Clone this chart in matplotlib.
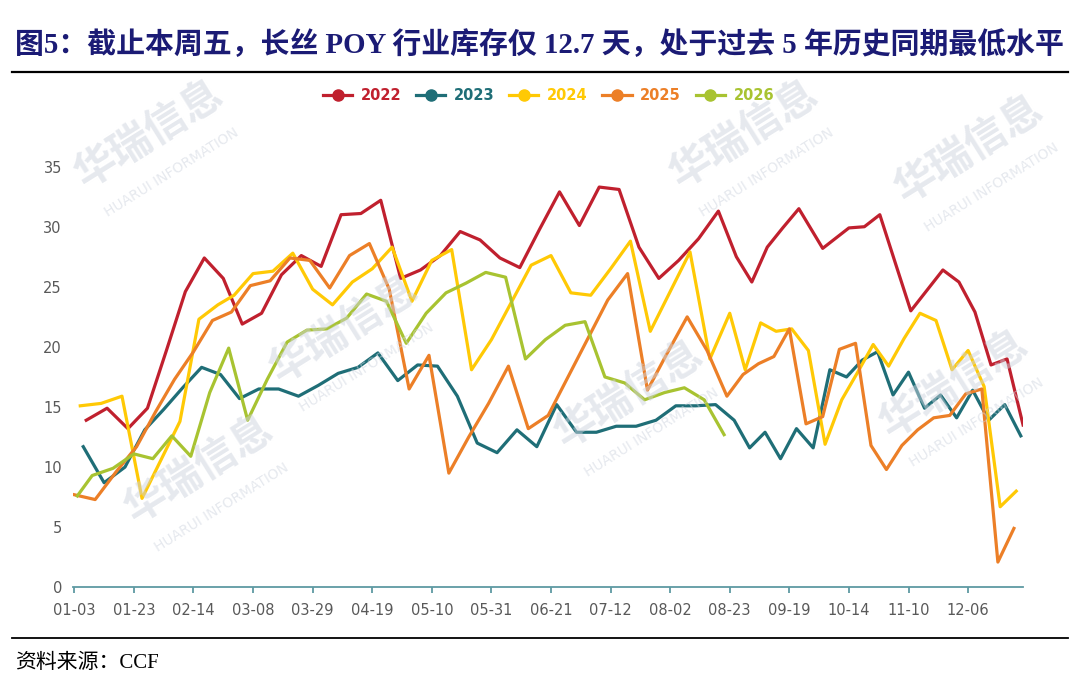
import numpy as np
import pandas as pd
import matplotlib
matplotlib.use("Agg")
import matplotlib.pyplot as plt
from matplotlib.lines import Line2D

# ── данные ──────────────────────────────────────────────────────────
tick_labels = ["01-03", "01-23", "02-14", "03-08", "03-29", "04-19", "05-10", "05-31",
               "06-21", "07-12", "08-02", "08-23", "09-19", "10-14", "11-10", "12-06"]

years = ["2022", "2023", "2024", "2025", "2026"]

dates_2022 = (pd.date_range("2022-01-07", "2022-12-30", freq="7D")
              .drop(pd.to_datetime(["2022-09-30", "2022-10-07"]))
              .append(pd.DatetimeIndex(["2022-10-03"])).sort_values())
dates_2023 = pd.date_range("2023-01-06", "2023-12-29", freq="7D")
dates_2024 = pd.date_range("2024-01-05", "2024-12-27", freq="7D")
dates_2025 = pd.date_range("2025-01-03", "2025-12-26", freq="7D")
dates_2026 = pd.DatetimeIndex(["2026-01-04"]).append(
    pd.date_range("2026-01-09", "2026-08-21", freq="7D"))

v2022 = [13.9, 14.9, 13.2, 14.9, 19.7, 24.6, 27.4, 25.7, 21.9, 22.8,
         26.0, 27.6, 26.7, 31.0, 31.1, 32.2, 25.7, 26.4, 27.6, 29.6,
         28.9, 27.4, 26.6, 29.8, 32.9, 30.1, 33.3, 33.1, 28.3, 25.7,
         27.2, 29.0, 31.3, 27.5, 25.4, 28.3, 29.9, 31.5, 28.2, 29.9,
         30.0, 31.0, 27.0, 23.0, 24.7, 26.4, 25.4, 22.9, 18.5, 19.0,
         13.5]
v2023 = [11.7, 8.7, 10.0, 13.1, 14.8, 16.6, 18.3, 17.7, 15.7, 16.5,
         16.5, 15.9, 16.8, 17.8, 18.3, 19.5, 17.2, 18.5, 18.4, 15.9,
         12.0, 11.2, 13.1, 11.7, 15.2, 12.9, 12.9, 13.4, 13.4, 13.9,
         15.1, 15.1, 15.2, 13.9, 11.6, 12.9, 10.7, 13.2, 11.6, 18.1,
         17.5, 18.9, 19.6, 16.0, 17.9, 14.9, 16.0, 14.1, 16.4, 13.9,
         15.2, 12.6]
v2024 = [15.1, 15.3, 15.9, 7.4, 10.6, 13.8, 22.3, 23.5, 24.3, 26.1,
         26.3, 27.8, 24.8, 23.5, 25.4, 26.5, 28.3, 23.8, 27.2, 28.1,
         18.1, 20.6, 23.7, 26.8, 27.6, 24.5, 24.3, 26.5, 28.8, 21.3,
         24.6, 27.9, 19.0, 22.8, 18.1, 22.0, 21.3, 21.5, 19.7, 11.9,
         15.6, 17.9, 20.2, 18.4, 20.7, 22.8, 22.2, 18.1, 19.7, 16.7,
         6.7, 8.0]
v2025 = [7.7, 7.3, 9.6, 11.7, 14.6, 17.3, 19.6, 22.2, 22.9, 25.1,
         25.5, 27.4, 27.2, 24.9, 27.6, 28.6, 24.8, 16.5, 19.3, 9.5,
         12.5, 15.3, 18.4, 13.2, 14.3, 17.5, 20.7, 23.9, 26.1, 16.4,
         19.5, 22.5, 19.7, 15.9, 17.7, 18.6, 19.2, 21.5, 13.6, 14.2,
         19.8, 20.3, 11.8, 9.8, 11.8, 13.1, 14.1, 14.3, 16.1, 16.5,
         2.1, 4.9]
v2026 = [7.6, 9.3, 9.9, 11.1, 10.7, 12.6, 10.9, 16.2, 19.9, 13.9,
         17.3, 20.4, 21.4, 21.5, 22.4, 24.4, 23.8, 20.3, 22.8, 24.5,
         25.3, 26.2, 25.8, 19.0, 20.6, 21.8, 22.1, 17.5, 17.0, 15.6,
         16.2, 16.6, 15.6, 12.7]

series_dates = [dates_2022, dates_2023, dates_2024, dates_2025, dates_2026]
series_vals = [v2022, v2023, v2024, v2025, v2026]
colors = ["#C0202E", "#1F6E77", "#FFC905", "#EC7F27", "#A8C331"]

# ── ось X: дата -> позиция (кусочно-линейно между подписями) ─────────
day_knots = [pd.Timestamp("2025-" + t).dayofyear for t in tick_labels]
pos_knots = list(range(len(tick_labels)))
day_knots.append(366)
pos_knots.append(pos_knots[-1] + (366 - day_knots[-2]) / (day_knots[-2] - day_knots[-3]))


def to_pos(dates):
    doy = pd.to_datetime("2025-" + dates.strftime("%m-%d")).dayofyear
    return np.interp(doy, day_knots, pos_knots)


plt.rcParams["font.family"] = ["DejaVu Sans", "Noto Sans CJK SC"]

W, H = 1080, 685
fig = plt.figure(figsize=(W / 100, H / 100), dpi=100, facecolor="white")

# водяные знаки
wm_color = "#CDD3DE"
for (px, py) in [(150, 135), (345, 330), (630, 395), (745, 135), (970, 150), (955, 385), (200, 470)]:
    fig.text(px / W, 1 - py / H, "华瑞信息", fontsize=30, fontweight="bold",
             color=wm_color, alpha=0.5, rotation=32, ha="center", va="center",
             family=["Noto Sans CJK SC"], zorder=0)
    fig.text((px + 22) / W, 1 - (py + 38) / H, "HUARUI INFORMATION", fontsize=10,
             color=wm_color, alpha=0.5, rotation=32, ha="center", va="center", zorder=0)

ax = fig.add_axes([73 / W, 1 - 587.3 / H, 950.5 / W, (587.3 - 148.6) / H])
ax.set_facecolor("none")

for yr, d, v, c in zip(years, series_dates, series_vals, colors):
    ax.plot(to_pos(d), v, color=c, lw=2.3, label=yr, zorder=3)

ax.set_xlim(-0.022, 15.93)
ax.set_ylim(0, 36.5)
ax.set_yticks(range(0, 36, 5))
ax.set_xticks(range(len(tick_labels)))
ax.set_xticklabels(tick_labels)

for s in ["top", "right", "left"]:
    ax.spines[s].set_visible(False)
ax.spines["bottom"].set_color("#5E9AA3")
ax.spines["bottom"].set_linewidth(1.3)
ax.tick_params(axis="x", colors="#5E9AA3", length=4.5, width=1.3, pad=7,
               labelcolor="#595959", labelsize=10.5)
ax.tick_params(axis="y", length=0, pad=8, labelcolor="#595959", labelsize=10.5)

# легенда
handles = [Line2D([], [], color=c, lw=2.3, marker="o", markersize=8) for c in colors]
fig.legend(handles, years, loc="center", bbox_to_anchor=(0.508, 1 - 96 / H), ncol=5,
           frameon=False, labelcolor=colors, handlelength=2.0, handletextpad=0.6,
           columnspacing=1.0, prop={"weight": "bold", "size": 10.5})

# заголовок
fig.text(15 / W, 1 - 45 / H,
         "图5：截止本周五，长丝 POY 行业库存仅 12.7 天，处于过去 5 年历史同期最低水平",
         fontsize=20.8, fontweight="bold", color="#1B1B75", va="center", ha="left",
         family=["Liberation Serif", "Noto Sans CJK SC"])
fig.add_artist(Line2D([12 / W, 1068 / W], [1 - 72 / H] * 2, color="black", lw=1.6))

# источник
fig.add_artist(Line2D([12 / W, 1068 / W], [1 - 638 / H] * 2, color="black", lw=1.3))
fig.text(15 / W, 1 - 663 / H, "资料来源：CCF", fontsize=15, color="black",
         va="center", ha="left", family=["Liberation Serif", "Noto Sans CJK SC"])

fig.savefig("out.png", dpi=100, facecolor="white")
plt.close(fig)
